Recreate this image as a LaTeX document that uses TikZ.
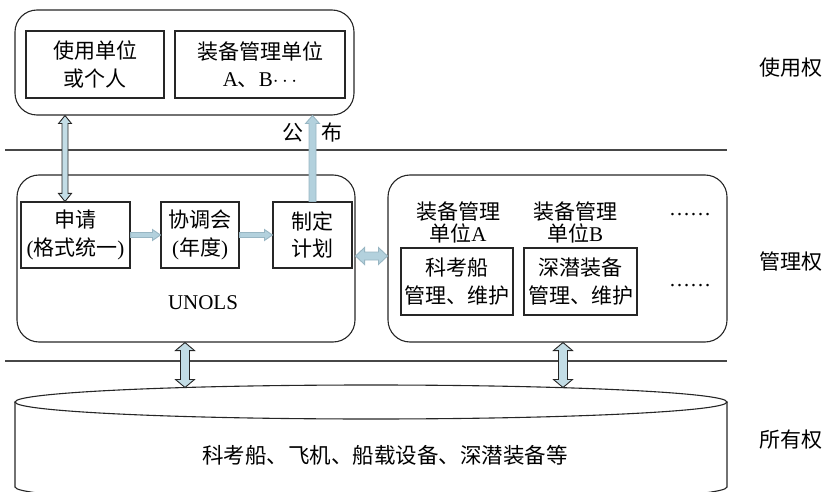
\documentclass[tikz,border=0pt]{standalone}
\usepackage{fontspec}
\setmainfont{Liberation Serif}
\newfontfamily\cjk{Noto Sans CJK SC}
\usetikzlibrary{calc}
\definecolor{arrfill}{HTML}{C3DDE6}
\definecolor{arrfillb}{HTML}{B3D1DD}
\definecolor{arredge}{HTML}{98B6C3}
\definecolor{ink}{HTML}{262626}

% single block arrow: #1 style, #2 from, #3 to, #4 half shaft, #5 half head, #6 head length
\newcommand\blockarrow[6]{%
  \coordinate (baA) at (#2);
  \coordinate (baB) at (#3);
  \coordinate (baH) at ($(baB)!#6!(baA)$);
  \filldraw[#1] ($(baA)!#4!90:(baB)$) -- ($(baH)!#4!90:(baB)$) -- ($(baH)!#5!90:(baB)$) -- (baB)
    -- ($(baH)!#5!-90:(baB)$) -- ($(baH)!#4!-90:(baB)$) -- ($(baA)!#4!-90:(baB)$) -- cycle;
}
% double block arrow
\newcommand\dblockarrow[6]{%
  \coordinate (daA) at (#2);
  \coordinate (daB) at (#3);
  \coordinate (daHa) at ($(daA)!#6!(daB)$);
  \coordinate (daHb) at ($(daB)!#6!(daA)$);
  \filldraw[#1] (daA) -- ($(daHa)!#5!-90:(daB)$) -- ($(daHa)!#4!-90:(daB)$) -- ($(daHb)!#4!-90:(daB)$)
    -- ($(daHb)!#5!-90:(daB)$) -- (daB) -- ($(daHb)!#5!90:(daB)$) -- ($(daHb)!#4!90:(daB)$)
    -- ($(daHa)!#4!90:(daB)$) -- ($(daHa)!#5!90:(daB)$) -- cycle;
}

\begin{document}
\begin{tikzpicture}[x=1pt,y=-1pt,
  outer/.style={draw=ink, line width=1.1pt, rounded corners=22pt, inner sep=0pt},
  box/.style={draw=ink, line width=1.1pt, align=center, inner sep=0pt,
    font=\fontsize{21}{27.5}\selectfont},
  txt/.style={align=center, inner sep=0pt, font=\fontsize{21}{22}\selectfont},
  darr/.style={fill=arrfill, draw=ink, line width=0.9pt, line join=miter},
  larr/.style={fill=arrfillb, draw=arredge, line width=0.9pt, line join=miter},
  sep/.style={draw=ink!85, line width=1.2pt}]
\useasboundingbox (0,0) rectangle (825,492);
\clip (0,0) rectangle (825,492);

% separator lines
\draw[sep] (5,150) -- (727,150);
\draw[sep] (5,361) -- (727,361);

% use layer
\node[outer, minimum width=339, minimum height=105] (topbox) at (184.5,62.5) {};
\node[box, minimum width=138, minimum height=67] (use1) at (95,64.5) {\cjk 使用单位\\\cjk 或个人};
\node[box, minimum width=170, minimum height=67] (use2) at (260,64.5) {\cjk 装备管理单位\\A{\cjk 、}B$\cdots$};

% management layer: UNOLS
\node[outer, minimum width=338, minimum height=167] (unols) at (186,258.5) {};
\node[box, minimum width=109, minimum height=66] (shenqing) at (75.5,235) {\cjk 申请\\({\cjk 格式统一})};
\node[box, minimum width=78, minimum height=66] (xietiao) at (200,235) {\cjk 协调会\\({\cjk 年度})};
\node[box, minimum width=79, minimum height=66] (zhiding) at (312.5,235) {\cjk 制定\\\cjk 计划};
\node[txt] (unolslbl) at (203,303) {UNOLS};

% management layer: units
\node[outer, minimum width=339, minimum height=167] (rightbox) at (557.5,258.5) {};
\node[txt] (unitA) at (458,222.5) {\cjk 装备管理\\{\cjk 单位}A};
\node[txt] (unitB) at (575,222.5) {\cjk 装备管理\\{\cjk 单位}B};
\node[txt] (dots1) at (690,215) {……};
\node[box, minimum width=112, minimum height=67] (boxA) at (457,281.5) {\cjk 科考船\\\cjk 管理、维护};
\node[box, minimum width=113, minimum height=67] (boxB) at (580.5,281.5) {\cjk 深潜装备\\\cjk 管理、维护};
\node[txt] (dots2) at (690,286) {……};

% ownership layer (cylinder)
\draw[ink, line width=1.1pt] (15,402) -- (15,487) arc[start angle=180, end angle=0, x radius=356, y radius=17] -- (727,402);
\draw[ink, line width=1.1pt] (371,402) ellipse[x radius=356, y radius=17];
\node[txt, font=\fontsize{21.5}{24}\selectfont] (assets) at (385,455) {\cjk 科考船、飞机、船载设备、深潜装备等};
\coordinate (cylA) at (185,387.5);
\coordinate (cylB) at (563,387.5);

% right-hand labels
\node[txt] (lblUse) at (791,68) {\cjk 使用权};
\node[txt] (lblMan) at (791,262) {\cjk 管理权};
\node[txt] (lblOwn) at (791,440) {\cjk 所有权};

% publish label
\node[txt] (gong) at (293,133) {\cjk 公};
\node[txt] (bu) at (332,133) {\cjk 布};

% arrows
\coordinate (reqx) at ($(shenqing.north)+(-10.5,0)$);
\dblockarrow{darr}{topbox.south -| reqx}{reqx}{3pt}{6.5pt}{8pt}
\blockarrow{larr}{zhiding.north}{zhiding.north |- topbox.south}{3.5pt}{7pt}{8pt}
\blockarrow{larr}{shenqing.east}{xietiao.west}{2.5pt}{5.5pt}{8pt}
\blockarrow{larr}{xietiao.east}{zhiding.west}{2.5pt}{5.5pt}{8pt}
\coordinate (midy) at (0,256);
\dblockarrow{larr}{unols.east |- midy}{rightbox.west |- midy}{4pt}{8.5pt}{9pt}
\dblockarrow{darr}{unols.south -| cylA}{cylA}{4.5pt}{9.5pt}{8pt}
\dblockarrow{darr}{rightbox.south -| cylB}{cylB}{4.5pt}{9.5pt}{8pt}
\end{tikzpicture}
\end{document}
